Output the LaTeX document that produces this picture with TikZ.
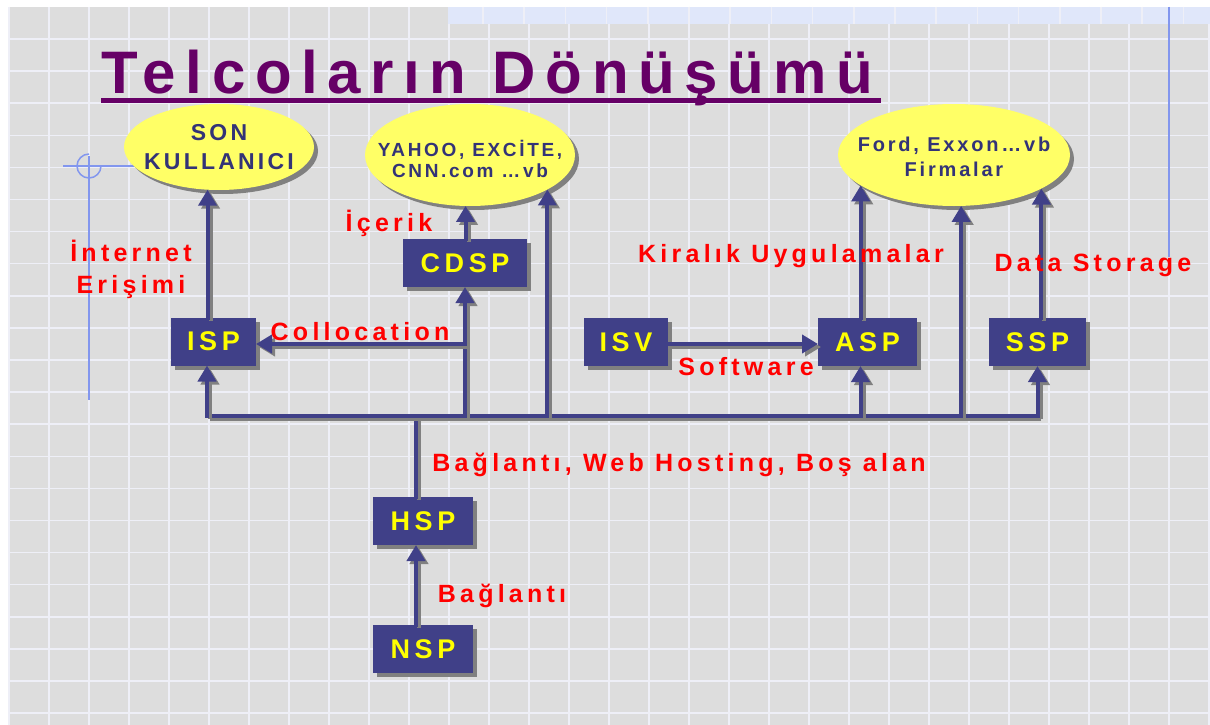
\documentclass[tikz,border=0pt]{standalone}
\usepackage{fontspec}
\setmainfont{Liberation Sans}
\newfontfamily\titlefont[LetterSpace=16]{Liberation Sans}
\newfontfamily\wideface[LetterSpace=17]{Liberation Sans}
\newfontfamily\ovalface[LetterSpace=14]{Liberation Sans}
\usetikzlibrary{arrows.meta,shadows,shapes.geometric,calc}

\definecolor{bggray}{RGB}{221,221,221}
\definecolor{gridline}{RGB}{238,239,247}
\definecolor{bandblue}{RGB}{224,231,250}
\definecolor{titlepurple}{RGB}{102,0,102}
\definecolor{boxnavy}{RGB}{64,64,136}
\definecolor{ovaltext}{RGB}{51,51,119}
\definecolor{ovalyellow}{RGB}{255,255,102}
\definecolor{shadegray}{RGB}{128,128,128}
\definecolor{guideblue}{RGB}{130,150,238}
\definecolor{boxtext}{RGB}{255,255,0}

\tikzset{
  box/.style={rectangle, fill=boxnavy, minimum height=48pt, inner sep=0pt, outer sep=0pt,
    text=boxtext, font=\wideface\bfseries\fontsize{27}{30}\selectfont,
    drop shadow={shadow xshift=4pt, shadow yshift=-4pt, fill=shadegray, opacity=1}},
  oval/.style={ellipse, fill=ovalyellow, inner sep=0pt, outer sep=0pt,
    drop shadow={shadow xshift=4pt, shadow yshift=-4pt, fill=shadegray, opacity=1}},
  ovaltxt/.style={text=ovaltext, align=center, inner sep=0pt},
  lbl/.style={text=red, font=\wideface\bfseries\fontsize{25}{32}\selectfont, inner sep=0pt},
  conn/.style={draw=boxnavy, line width=4pt, line cap=rect,
    preaction={draw=shadegray, line width=4pt, transform canvas={shift={(3pt,-3pt)}}}},
  tip/.style={-{Triangle[width=18pt,length=16pt]}},
  guide/.style={draw=guideblue, line width=1.5pt},
}

\begin{document}
\begin{tikzpicture}[x=1pt,y=-1pt]
\useasboundingbox (0,0) rectangle (1210,725);

% slide background with its grid
\fill[white] (0,0) rectangle (1210,725);
\fill[bggray] (8,7) rectangle (1210,725);
\foreach \x in {9,49,...,1209}
  \draw[gridline, line width=1.5pt] (\x,7) -- (\x,725);
\foreach \k in {0,...,21}
  \draw[gridline, line width=1.5pt] (8,{39+32.1*\k}) -- (1210,{39+32.1*\k});
\fill[bandblue] (448,7) rectangle (1210,24);
\foreach \x in {483,524.2,...,1210}
  \draw[gridline, line width=1.5pt] (\x,7) -- (\x,24);

% guide lines
\draw[guide] (1169,7) -- (1169,257);
\draw[guide] (89,156) -- (89,400);
\draw[guide] (63,166) -- (140,166);
\draw[guide] (89,166) ++(0pt,12pt) arc[start angle=90, end angle=360, radius=12pt];

% title
\node[anchor=base west, inner sep=0pt, text=titlepurple,
      font=\titlefont\bfseries\fontsize{60}{70}\selectfont] (title) at (101,93) {Telcoların Dönüşümü};
\draw[titlepurple, line width=5pt] (101,100.5) -- (881,100.5);

% customers
\node[oval, minimum width=190pt, minimum height=86pt,
  label={[ovaltxt, font=\ovalface\bfseries\fontsize{23}{29}\selectfont]center:{SON\\KULLANICI}}] (son) at (219,147) {};
\node[oval, minimum width=210pt, minimum height=102pt,
  label={[ovaltxt, yshift=-4pt, font=\ovalface\bfseries\fontsize{19}{21}\selectfont]center:{YAHOO, EXCİTE,\\CNN.com …vb}}] (yahoo) at (470,155) {};
\node[oval, minimum width=232pt, minimum height=102pt,
  label={[ovaltxt, yshift=-2pt, font=\ovalface\bfseries\fontsize{20}{25}\selectfont]center:{Ford, Exxon…vb\\Firmalar}}] (ford) at (954,155) {};

% providers
\node[box, minimum width=124pt] (cdsp) at (465,263) {CDSP};
\node[box, minimum width=85pt] (isp) at (213.5,341.5) {ISP};
\node[box, minimum width=84pt] (isv) at (626,342) {ISV};
\node[box, minimum width=99pt] (asp) at (867.5,342) {ASP};
\node[box, minimum width=97pt] (ssp) at (1037.5,342) {SSP};
\node[box, minimum width=100pt] (hsp) at (423,521) {HSP};
\node[box, minimum width=100pt] (nsp) at (423,649) {NSP};

% connection points
\coordinate (bus) at (0,415.5);
\coordinate (ispS) at ([xshift=-6.5pt]isp.south);
\coordinate (hspN) at ([xshift=-7pt]hsp.north);
\coordinate (hspS) at ([xshift=-7pt]hsp.south);
\coordinate (nspN) at ([xshift=-7pt]nsp.north);
\coordinate (aspS) at ([xshift=-7pt]asp.south);
\coordinate (coll) at ([yshift=-2.5pt]isp.east);
\coordinate (isvE) at ([yshift=-2pt]isv.east);
\coordinate (aspW) at ([yshift=-2pt]asp.west);

% connectors
\draw[conn, tip] (nspN) -- (hspS);
\draw[conn] (hspN) -- (hspN |- bus);
\draw[conn] (ispS |- bus) -- (ssp.south |- bus);
\draw[conn, tip] (ispS |- bus) -- (ispS);
\draw[conn, tip] (cdsp.south |- bus) -- (cdsp.south);
\draw[conn, tip] (yahoo.-24.8 |- bus) -- (yahoo.-24.8);
\draw[conn, tip] (aspS |- bus) -- (aspS);
\draw[conn, tip] (ford.-82.2 |- bus) -- (ford.-82.2);
\draw[conn, tip] (ssp.south |- bus) -- (ssp.south);
\draw[conn, tip] (son.-105.7 |- isp.north) -- (son.-105.7);
\draw[conn, tip] (yahoo.-95.6 |- cdsp.north) -- (yahoo.-95.6);
\draw[conn, tip] (cdsp.south |- coll) -- (coll);
\draw[conn, tip] (isvE) -- (aspW);
\draw[conn, tip] (ford.-162.4 |- asp.north) -- (ford.-162.4);
\draw[conn, tip] (ford.-21.7 |- ssp.north) -- (ford.-21.7);

% labels
\node[lbl, anchor=north, align=center] (lInternet) at (131,240) {İnternet\\Erişimi};
\node[lbl, anchor=base] (lIcerik) at (389,231) {İçerik};
\node[lbl, anchor=base] (lColl) at (360,340) {Collocation};
\node[lbl, anchor=base] (lKiralik) at (791,262) {Kiralık Uygulamalar};
\node[lbl, anchor=base] (lData) at (1093,271) {Data Storage};
\node[lbl, anchor=base] (lSoft) at (746,375) {Software};
\node[lbl, anchor=base] (lWeb) at (679,471) {Bağlantı, Web Hosting, Boş alan};
\node[lbl, anchor=base] (lBag) at (502,602) {Bağlantı};
\end{tikzpicture}
\end{document}
